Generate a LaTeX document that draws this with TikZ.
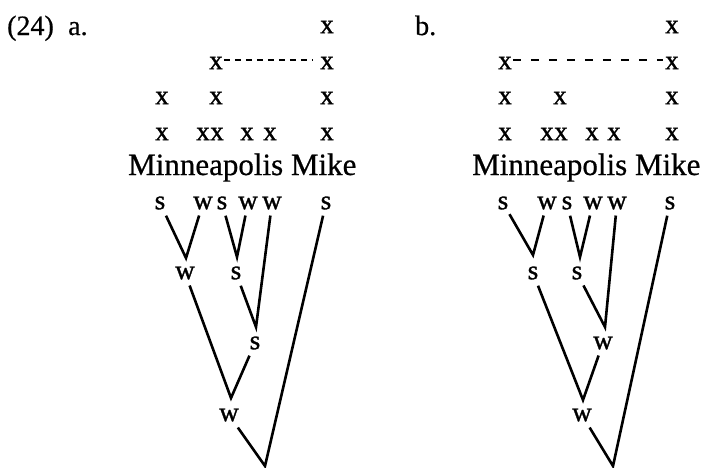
\documentclass[tikz,border=0pt]{standalone}
\usepackage{fontspec}
\setmainfont{Liberation Serif}
\newfontface\heavyface{Liberation Serif}[FakeBold=1.2]
\newfontface\midface{Liberation Serif}[FakeBold=0.6]
\begin{document}
\begin{tikzpicture}[x=1pt,y=-1pt,
  grid/.style={font=\heavyface\fontsize{27}{30}\selectfont, inner sep=0pt},
  lbl/.style={font=\heavyface\fontsize{27}{30}\selectfont, inner xsep=1pt, inner ysep=6pt},
  word/.style={font=\midface\fontsize{31}{36}\selectfont, inner sep=0pt, anchor=base west},
  num/.style={font=\midface\fontsize{28}{32}\selectfont, inner sep=0pt, anchor=base west},
  branch/.style={line width=2.6pt},
  tieA/.style={line width=1.3pt, dash pattern=on 6pt off 5pt},
  tieB/.style={line width=1.3pt, dash pattern=on 8pt off 10pt}]
\useasboundingbox (0,0) rectangle (703,467);

% ---------- labels ----------
\node[num] (num) at (7,35) {(24)};
\node[num] (la) at (68,35) {a.};
\node[num] (lb) at (415,35) {b.};

% ---------- (a) grid ----------
\node[grid] (a1r) at (327,27) {x};
\node[grid] (a2m) at (216,63) {x};
\node[grid] (a2r) at (327,63) {x};
\node[grid] (a3l) at (162,98) {x};
\node[grid] (a3m) at (216,98) {x};
\node[grid] (a3r) at (327,98) {x};
\node[grid] (a4a) at (162,134) {x};
\node[grid] (a4b) at (203,134) {x};
\node[grid] (a4c) at (217,134) {x};
\node[grid] (a4d) at (247,134) {x};
\node[grid] (a4e) at (270,134) {x};
\node[grid] (a4r) at (327,134) {x};
\draw[tieA, shorten <=1pt, shorten >=7pt] ([yshift=3pt]a2m.east) -- ([yshift=3pt]a2r.west);
\node[word] (wa) at (128,175) {Minneapolis Mike};

% ---------- (a) tree ----------
\node[lbl] (La1) at (160,203) {s};
\node[lbl] (La2) at (203,203) {w};
\node[lbl] (La3) at (222,203) {s};
\node[lbl] (La4) at (248,203) {w};
\node[lbl] (La5) at (272,203) {w};
\node[lbl] (La6) at (326,203) {s};
\coordinate (Va1) at (186,258);
\coordinate (Va2) at (237,257);
\coordinate (Va3) at (256,327);
\coordinate (Va4) at (231,398);
\coordinate (Va5) at (265,466);
\node[lbl] (Na1) at (185,273) {w};
\node[lbl] (Na2) at (236,273) {s};
\node[lbl] (Na3) at (255,343) {s};
\node[lbl] (Na4) at (229,415) {w};
\draw[branch] (La1) -- (Va1) -- (La2);
\draw[branch] (La3) -- (Va2) -- (La4);
\draw[branch] (Na2) -- (Va3) -- (La5);
\draw[branch] (Na1) -- (Va4) -- (Na3);
\draw[branch] (Na4) -- (Va5) -- (La6);

% ---------- (b) grid ----------
\node[grid] (b1r) at (672,27) {x};
\node[grid] (b2l) at (505,63) {x};
\node[grid] (b2r) at (672,63) {x};
\node[grid] (b3l) at (505,98) {x};
\node[grid] (b3m) at (560,98) {x};
\node[grid] (b3r) at (672,98) {x};
\node[grid] (b4a) at (505,134) {x};
\node[grid] (b4b) at (547,134) {x};
\node[grid] (b4c) at (561,134) {x};
\node[grid] (b4d) at (592,134) {x};
\node[grid] (b4e) at (614,134) {x};
\node[grid] (b4r) at (672,134) {x};
\draw[tieB, shorten <=1pt, shorten >=2pt] ([yshift=3pt]b2l.east) -- ([yshift=3pt]b2r.west);
\node[word] (wb) at (472,175) {Minneapolis Mike};

% ---------- (b) tree ----------
\node[lbl] (Lb1) at (503,203) {s};
\node[lbl] (Lb2) at (547,203) {w};
\node[lbl] (Lb3) at (567,203) {s};
\node[lbl] (Lb4) at (593,203) {w};
\node[lbl] (Lb5) at (617,203) {w};
\node[lbl] (Lb6) at (670,203) {s};
\coordinate (Vb1) at (533,255);
\coordinate (Vb2) at (580,257);
\coordinate (Vb3) at (605,327);
\coordinate (Vb4) at (583,400);
\coordinate (Vb5) at (613,466);
\node[lbl] (Nb1) at (533,273) {s};
\node[lbl] (Nb2) at (577,273) {s};
\node[lbl] (Nb3) at (603,343) {w};
\node[lbl] (Nb4) at (582,415) {w};
\draw[branch] (Lb1) -- (Vb1) -- (Lb2);
\draw[branch] (Lb3) -- (Vb2) -- (Lb4);
\draw[branch] (Nb2) -- (Vb3) -- (Lb5);
\draw[branch] (Nb1) -- (Vb4) -- (Nb3);
\draw[branch] (Nb4) -- (Vb5) -- (Lb6);
\end{tikzpicture}
\end{document}
